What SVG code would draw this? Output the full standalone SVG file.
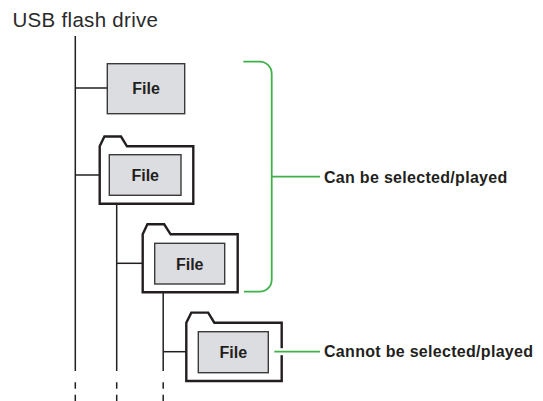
<svg xmlns="http://www.w3.org/2000/svg" width="543" height="401" viewBox="0 0 543 401">
<style>
.title{font-family:"Liberation Sans",Arial,sans-serif;font-size:20.5px;fill:#2a2a2a;letter-spacing:0.3px}
.lbl{font-family:"Liberation Sans",Arial,sans-serif;font-size:16px;font-weight:bold;fill:#231f20;letter-spacing:0.3px}
.ftxt{font-family:"Liberation Sans",Arial,sans-serif;font-size:16px;font-weight:bold;fill:#231f20;text-anchor:middle}
.file{fill:#dcdde0;stroke:#3a3a3a;stroke-width:1.4}
.folder{fill:#ffffff;stroke:#231f20;stroke-width:2.4;stroke-linejoin:miter}
.tree{stroke:#231f20;stroke-width:1.5;fill:none}
.dash{stroke:#231f20;stroke-width:1.5;fill:none;stroke-dasharray:6.5 6}
.green{stroke:#3fb04a;stroke-width:1.8;fill:none}
</style>
<rect width="543" height="401" fill="#ffffff"/>
<text class="title" x="12.5" y="26.5">USB flash drive</text>
<g id="connectors">
  <line class="tree" x1="75.3" y1="36" x2="75.3" y2="371"/>
  <line class="dash" x1="75.3" y1="382.3" x2="75.3" y2="401"/>
  <line class="tree" x1="75.3" y1="88" x2="107.3" y2="88"/>
  <line class="tree" x1="75.3" y1="175" x2="99.7" y2="175"/>
  <line class="tree" x1="116.7" y1="203.7" x2="116.7" y2="371"/>
  <line class="dash" x1="116.7" y1="382.3" x2="116.7" y2="401"/>
  <line class="tree" x1="116.7" y1="263.3" x2="142.7" y2="263.3"/>
  <line class="tree" x1="163.2" y1="292.3" x2="163.2" y2="371"/>
  <line class="dash" x1="163.2" y1="382.3" x2="163.2" y2="401"/>
  <line class="tree" x1="163.2" y1="351.7" x2="186.3" y2="351.7"/>
</g>
<g id="file1">
  <rect class="file" x="107.3" y="63.7" width="77.4" height="50"/>
  <text class="ftxt" x="146" y="94">File</text>
</g>
<g id="folder1">
  <path class="folder" d="M99.7,146.3 L104.4,136.5 L121,136.5 L127,146.3 L193.3,146.3 L193.3,203.7 L99.7,203.7 Z"/>
  <rect class="file" x="109.3" y="154.7" width="71.7" height="40.6"/>
  <text class="ftxt" x="145.2" y="180.8">File</text>
</g>
<g id="folder2">
  <path class="folder" d="M142.7,234.3 L147.4,224.3 L164.2,224.3 L170.6,234.3 L237.7,234.3 L237.7,292.3 L142.7,292.3 Z"/>
  <rect class="file" x="154.7" y="243.3" width="70" height="40.7"/>
  <text class="ftxt" x="189.7" y="269.5">File</text>
</g>
<g id="folder3">
  <path class="folder" d="M186.3,322.7 L191.3,312.6 L208.2,312.6 L214.3,322.7 L281.7,322.7 L281.7,381 L186.3,381 Z"/>
  <rect class="file" x="198.3" y="331.7" width="70" height="41"/>
  <text class="ftxt" x="233.3" y="358">File</text>
</g>
<g id="label-can">
  <path class="green" d="M243.3,61.7 L259.7,61.7 A12,12 0 0 1 271.7,73.7 L271.7,279.7 A12,12 0 0 1 259.7,291.7 L244,291.7"/>
  <line class="green" x1="271.7" y1="176.7" x2="320" y2="176.7"/>
  <text class="lbl" x="324" y="183">Can be selected/played</text>
</g>
<g id="label-cannot">
  <line x1="277" y1="351.7" x2="286" y2="351.7" stroke="#ffffff" stroke-width="7"/>
  <line class="green" x1="274.3" y1="351.7" x2="320" y2="351.7"/>
  <text class="lbl" x="324" y="356.7">Cannot be selected/played</text>
</g>
</svg>
